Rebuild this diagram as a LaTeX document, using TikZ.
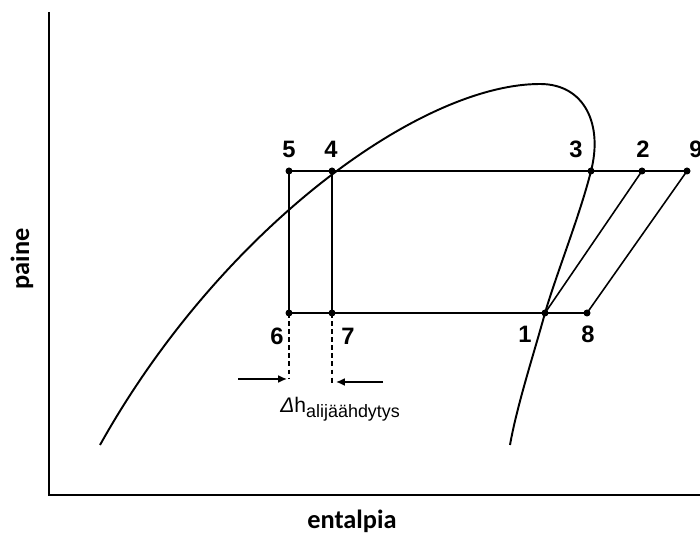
\documentclass[tikz,border=0pt]{standalone}
\usepackage{fontspec}
\setmainfont{Liberation Sans}
\newfontfamily\axisfont{Carlito}
\usepackage{tikz}
\usetikzlibrary{arrows,arrows.meta,positioning}

\begin{document}
\begin{tikzpicture}[x=0.02cm, y=-0.02cm,
  dot/.style={circle, fill, inner sep=0pt, minimum size=0.14cm},
  num/.style={font=\fontsize{13.5}{16}\selectfont\bfseries, inner sep=0pt},
  axlabel/.style={font=\axisfont\fontsize{15}{18}\selectfont\bfseries},
  cyc/.style={line width=0.9pt},
  dome/.style={line width=1.1pt},
  dimarr/.style={-{Latex[length=5pt,width=4.5pt]}, line width=0.9pt},
  guide/.style={line width=0.9pt, dash pattern=on 2.8pt off 1.8pt}
]
\useasboundingbox (0,0) rectangle (700,536);

% Axes
\draw[line width=1.4pt] (49,12) -- (49,495) -- (700,495);
\node[axlabel] (xlab) at (352,521) {entalpia};
\node[axlabel, rotate=90] (ylab) at (22,259) {paine};

% Saturation dome
\draw[dome] (100,445) .. controls (220,230) and (420,84) .. (540,84)
  .. controls (585,84) and (603,125) .. (591,171)
  .. controls (580,215) and (556,275) .. (545,313)
  .. controls (535,350) and (517,405) .. (510,445);

% State points
\node[dot] (p5) at (289,171) {};
\node[dot] (p4) at (332,171) {};
\node[dot] (p3) at (591,171) {};
\node[dot] (p2) at (642,171) {};
\node[dot] (p9) at (687,171) {};
\node[dot] (p6) at (289,313) {};
\node[dot] (p7) at (332,313) {};
\node[dot] (p1) at (545,313) {};
\node[dot] (p8) at (587,313) {};

% Point labels
\node[num] (l5) at (289,149) {5};
\node[num] (l4) at (331,149) {4};
\node[num] (l3) at (576,149) {3};
\node[num] (l2) at (643,149) {2};
\node[num] (l9) at (696,149) {9};
\node[num] (l6) at (277,336) {6};
\node[num] (l7) at (348,336) {7};
\node[num] (l1) at (525,334) {1};
\node[num] (l8) at (588,334) {8};

% Cycle lines
\draw[cyc] (p5.center) -- (p9.center);
\draw[cyc] (p6.center) -- (p8.center);
\draw[cyc] (p5.center) -- (p6.center);
\draw[cyc] (p4.center) -- (p7.center);
\draw[cyc] (p2.center) -- (p1.center);
\draw[cyc] (p9.center) -- (p8.center);

% Subcooling
\coordinate (d6) at (289,379);
\coordinate (d7) at (332,383);
\coordinate (a6) at (238,379);
\coordinate (t6) at (287,379);
\coordinate (a7) at (383,382);
\coordinate (t7) at (336,382);
\draw[guide] (p6.center) -- (d6);
\draw[guide] (p7.center) -- (d7);
\draw[dimarr] (a6) -- (t6);
\draw[dimarr] (a7) -- (t7);
\node[anchor=base west, inner sep=0pt, font=\fontsize{12}{14}\selectfont] (dh) at (280,413)
  {{\itshape Δ}h\raisebox{-2.8pt}{\fontsize{10.2}{12}\selectfont alijäähdytys}};
\end{tikzpicture}
\end{document}
